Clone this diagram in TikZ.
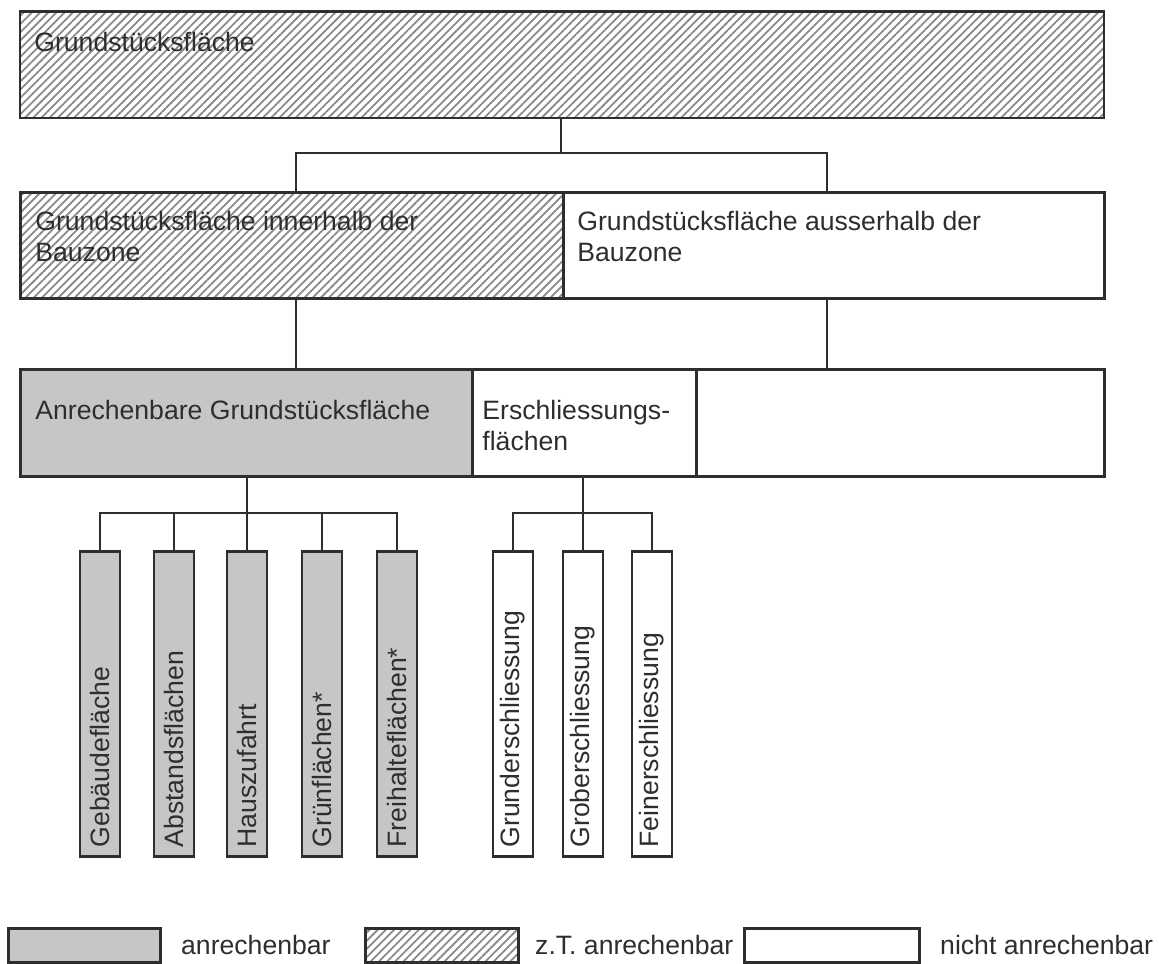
\documentclass[tikz,border=0pt]{standalone}
\usepackage{fontspec}
\setmainfont{Liberation Sans}
\usetikzlibrary{patterns.meta}

\definecolor{fillgray}{HTML}{C6C6C6}
\definecolor{linegray}{HTML}{2E2E2E}
\definecolor{hatchgray}{HTML}{8A8A8A}

\tikzset{
  area/.style={draw=linegray, line width=1.4pt, inner sep=0pt, anchor=north west},
  zt/.style={area, pattern={Lines[angle=45,distance=2.9pt,line width=0.9pt]}, pattern color=hatchgray},
  ja/.style={area, fill=fillgray},
  nein/.style={area, fill=white},
  lbl/.style={anchor=north west, inner sep=0pt, align=left, text=linegray,
    font=\fontsize{13.3}{15.5}\selectfont},
  vlbl/.style={lbl, anchor=west, rotate=90},
  strip/.style={anchor=north, minimum width=20pt, minimum height=152.5pt},
  link/.style={draw=linegray, line width=1.25pt}
}

\begin{document}
\begin{tikzpicture}[x=0.5pt,y=-0.5pt]
\useasboundingbox (0,0) rectangle (1159,963);

% Flaechen
\node[zt, minimum width=542pt, minimum height=53pt] (grund) at (19,11) {};
\node[zt, minimum width=271.5pt, minimum height=53pt] (innen) at (19,191) {};
\node[nein, minimum width=270.5pt, minimum height=53pt] (aussen) at (562,191) {};
\node[ja, minimum width=226pt, minimum height=53.5pt] (anr) at (19,368) {};
\node[nein, minimum width=112pt, minimum height=53.5pt] (ersch) at (471,368) {};
\node[nein, minimum width=204pt, minimum height=53.5pt] (rest) at (695,368) {};

\node[lbl] (grund-t) at ([xshift=7.5pt,yshift=-10.5pt]grund.north west) {Grundstücksfläche};
\node[lbl] (innen-t) at ([xshift=8pt,yshift=-10pt]innen.north west) {Grundstücksfläche innerhalb der\\Bauzone};
\node[lbl] (aussen-t) at ([xshift=7.5pt,yshift=-10pt]aussen.north west) {Grundstücksfläche ausserhalb der\\Bauzone};
\node[lbl] (anr-t) at ([xshift=8pt,yshift=-16pt]anr.north west) {Anrechenbare Grundstücksfläche};
\node[lbl] (ersch-t) at ([xshift=5.5pt,yshift=-16pt]ersch.north west) {Erschliessungs-\\flächen};

% Teilflaechen
\foreach \name/\x/\txt in {g1/100/Gebäudefläche, g2/174/Abstandsflächen, g3/247/Hauszufahrt,
    g4/322/Grünflächen*, g5/397/Freihalteflächen*} {
  \node[ja, strip] (\name) at (\x,550) {};
  \node[vlbl] (\name-t) at ([yshift=5pt]\name.south) {\txt};
}
\foreach \name/\x/\txt in {w1/513/Grunderschliessung, w2/583/Groberschliessung,
    w3/652/Feinerschliessung} {
  \node[nein, strip] (\name) at (\x,550) {};
  \node[vlbl] (\name-t) at ([yshift=5pt]\name.south) {\txt};
}

% Verbindungen
\coordinate (k1) at (561,153);
\coordinate (a1) at (296,153);
\coordinate (a2) at (827,153);
\draw[link] (k1 |- grund.south) -- (k1);
\draw[link] (innen.north -| a1) |- (k1) -| (aussen.north -| a2);
\draw[link] (innen.south -| a1) -- (anr.north -| a1);
\draw[link] (aussen.south -| a2) -- (rest.north -| a2);

\coordinate (k2) at (247,513);
\draw[link] (anr.south -| g3.north) -- (g3.north);
\draw[link] (g1.north) |- (k2) -| (g5.north);
\foreach \i in {2,4}
  \draw[link] (g\i.north) -- (g\i.north |- k2);

\coordinate (k3) at (583,513);
\draw[link] (ersch.south -| w2.north) -- (w2.north);
\draw[link] (w1.north) |- (k3) -| (w3.north);

% Legende
\node[ja, minimum width=76pt, minimum height=17pt] (leg1) at (7,927) {};
\node[zt, minimum width=76.5pt, minimum height=17pt] (leg2) at (364,927) {};
\node[nein, minimum width=87.5pt, minimum height=17pt] (leg3) at (743,927) {};
\node[lbl, anchor=west] (leg1-t) at ([xshift=9.5pt]leg1.east) {anrechenbar};
\node[lbl, anchor=west] (leg2-t) at ([xshift=7.5pt]leg2.east) {z.T. anrechenbar};
\node[lbl, anchor=west] (leg3-t) at ([xshift=9.5pt]leg3.east) {nicht anrechenbar};
\end{tikzpicture}
\end{document}
